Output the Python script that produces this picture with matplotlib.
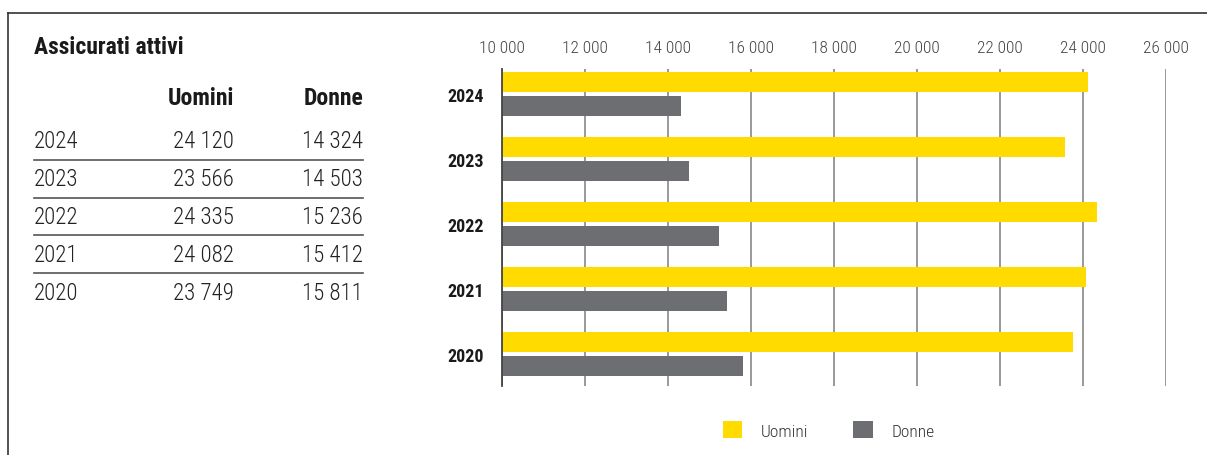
import matplotlib.pyplot as plt
import numpy as np
from matplotlib.lines import Line2D

# data
years = ["2024", "2023", "2022", "2021", "2020"]
uomini = [24120, 23566, 24335, 24082, 23749]
donne = [14324, 14503, 15236, 15412, 15811]
xticks = [10000, 12000, 14000, 16000, 18000, 20000, 22000, 24000, 26000]

W, H = 1207, 456
YELLOW = "#FFDB00"
GREY = "#6D6E71"
FONT = ["Roboto Condensed", "DejaVu Sans"]

plt.rcParams["font.family"] = FONT


def fx(x):
    return x / W


def fy(y):
    return 1 - y / H


def fmt(v):
    return "{:,}".format(v).replace(",", " ")


fig = plt.figure(figsize=(W / 100, H / 100), dpi=100)

# border (top and left)
fig.add_artist(Line2D([fx(8), 1], [fy(14), fy(14)], color="#333333", lw=1.2))
fig.add_artist(Line2D([fx(8), fx(8)], [fy(14), 0], color="#333333", lw=1.2))

# table on the left
fig.text(fx(34), fy(47), "Assicurati attivi", fontsize=17, fontweight="bold",
         color="#1a1a1a", va="center", ha="left")
fig.text(fx(234), fy(99), "Uomini", fontsize=17, fontweight="bold",
         color="#1a1a1a", va="center", ha="right")
fig.text(fx(363), fy(99), "Donne", fontsize=17, fontweight="bold",
         color="#1a1a1a", va="center", ha="right")
row_y = [142, 180, 218, 255, 293]
for i, yr in enumerate(years):
    fig.text(fx(34), fy(row_y[i]), yr, fontsize=16.5, fontweight=300,
             color="#222222", va="center", ha="left")
    fig.text(fx(234), fy(row_y[i]), fmt(uomini[i]), fontsize=16.5, fontweight=300,
             color="#222222", va="center", ha="right")
    fig.text(fx(363), fy(row_y[i]), fmt(donne[i]), fontsize=16.5, fontweight=300,
             color="#222222", va="center", ha="right")
    if i < len(years) - 1:
        ly = (row_y[i] + row_y[i + 1]) / 2 - 0.5
        fig.add_artist(Line2D([fx(34), fx(363)], [fy(ly), fy(ly)],
                              color="#555555", lw=1.2))

# bar chart
ax = fig.add_axes([fx(502), fy(387), fx(1166) - fx(502), fy(70) - fy(387)])
y = np.arange(len(years))
h = 0.308
off = 0.185
ax.barh(y - off, uomini, height=h, color=YELLOW, label="Uomini", zorder=3)
ax.barh(y + off, donne, height=h, color=GREY, label="Donne", zorder=3)

ax.set_xlim(10000, 26000)
ax.set_ylim(len(years) - 1 + 0.49, -0.385)
ax.set_xticks(xticks)
ax.set_xticklabels([fmt(t) for t in xticks], fontsize=12.5, fontweight=300,
                   color="#444444")
ax.xaxis.tick_top()
ax.tick_params(axis="x", length=0, pad=10)
ax.set_yticks(y)
ax.set_yticklabels(years, fontsize=13, fontweight="bold", color="#1a1a1a")
ax.tick_params(axis="y", length=0, pad=13)
ax.grid(axis="x", color="#888888", lw=1.2, zorder=0)
for s in ["top", "right", "bottom"]:
    ax.spines[s].set_visible(False)
ax.spines["left"].set_color("#444444")
ax.spines["left"].set_linewidth(1.3)
ax.spines["left"].set_zorder(4)

ax.legend(loc="center left", bbox_to_anchor=(fx(707), fy(431)),
          bbox_transform=fig.transFigure, ncol=2, frameon=False,
          prop={"size": 12.5, "weight": 300},
          handlelength=1.1, handleheight=1.1,
          handletextpad=1.1, columnspacing=2.6, labelcolor="#333333")

fig.savefig("out.png", dpi=100)
